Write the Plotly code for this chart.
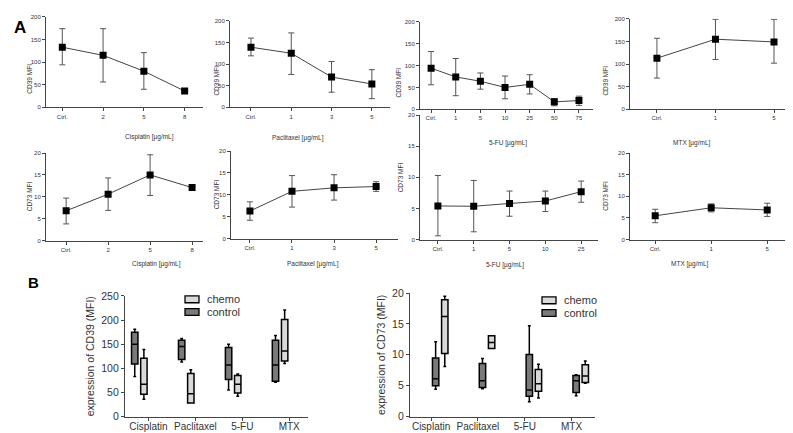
import plotly.graph_objects as go

W, H = 793, 433

# ---------------- data: panel A (mean, upper, lower of error bars) ----------------
cis_doses = ["Ctrl.", "2", "5", "8"]
pac_doses = ["Ctrl.", "1", "3", "5"]
fu39_doses = ["Ctrl.", "1", "5", "10", "25", "50", "75"]
fu73_doses = ["Ctrl.", "1", "5", "10", "25"]
mtx_doses = ["Ctrl.", "1", "5"]

cd39_cis = [133, 115, 80, 36]
cd39_cis_hi = [174, 174, 121, 38]
cd39_cis_lo = [94, 56, 40, 34]

cd39_pac = [139, 125, 70, 54]
cd39_pac_hi = [160, 172, 106, 87]
cd39_pac_lo = [119, 76, 35, 20]

cd39_fu = [94, 74, 64, 50, 57, 17, 20]
cd39_fu_hi = [132, 116, 83, 76, 79, 24, 30]
cd39_fu_lo = [56, 31, 46, 24, 35, 8, 9]

cd39_mtx = [113, 155, 149]
cd39_mtx_hi = [157, 199, 199]
cd39_mtx_lo = [69, 110, 102]

cd73_cis = [6.8, 10.6, 15.0, 12.1]
cd73_cis_hi = [9.7, 14.3, 19.6, 12.7]
cd73_cis_lo = [3.8, 6.9, 10.3, 11.5]

cd73_pac = [6.3, 10.8, 11.6, 11.9]
cd73_pac_hi = [8.4, 14.4, 14.6, 13.0]
cd73_pac_lo = [4.2, 7.2, 8.8, 10.8]

cd73_fu = [5.4, 5.35, 5.8, 6.2, 7.7]
cd73_fu_hi = [10.3, 9.5, 7.8, 7.8, 9.4]
cd73_fu_lo = [0.6, 1.25, 3.75, 4.5, 6.0]

cd73_mtx = [5.5, 7.35, 6.85]
cd73_mtx_hi = [7.0, 8.25, 8.4]
cd73_mtx_lo = [3.9, 6.4, 5.35]

x_titles = ["Cisplatin [µg/mL]", "Paclitaxel [µg/mL]", "5-FU [µg/mL]", "MTX [µg/mL]"]
cd39_ticks = [0, 50, 100, 150, 200]
cd73_ticks = [0, 5, 10, 15, 20]

# ---------------- data: panel B (box summaries) ----------------
drugs = ["Cisplatin", "Paclitaxel", "5-FU", "MTX"]
groups = ["chemo", "control"]

cd39_ctrl_min = [83, 113, 55, 71]
cd39_ctrl_q1 = [109, 118, 77, 73]
cd39_ctrl_med = [150, 145, 107, 107]
cd39_ctrl_q3 = [175, 158, 143, 158]
cd39_ctrl_max = [181, 162, 150, 168]

cd39_chemo_min = [36, 28, 42, 110]
cd39_chemo_q1 = [46, 28, 49, 115]
cd39_chemo_med = [67, 47, 67, 136]
cd39_chemo_q3 = [121, 89, 85, 201]
cd39_chemo_max = [139, 97, 88, 221]

cd73_ctrl_min = [4.4, 4.5, 2.4, 3.35]
cd73_ctrl_q1 = [5.0, 4.7, 3.3, 3.9]
cd73_ctrl_med = [6.1, 5.8, 4.3, 5.8]
cd73_ctrl_q3 = [9.5, 8.6, 10.05, 6.65]
cd73_ctrl_max = [12.1, 9.4, 14.7, 6.75]

cd73_chemo_min = [8.1, 11.0, 3.0, 5.4]
cd73_chemo_q1 = [10.2, 11.0, 4.1, 5.5]
cd73_chemo_med = [16.2, 12.0, 5.3, 6.55]
cd73_chemo_q3 = [18.9, 13.1, 7.6, 8.4]
cd73_chemo_max = [19.5, 13.1, 8.45, 9.0]


def dx(a, b):
    return [a / W, b / W]


def dy(top, bottom):
    return [1 - bottom / H, 1 - top / H]


fig = go.Figure()

panels = [
    (cis_doses, cd39_cis, cd39_cis_hi, cd39_cis_lo, (38, 195), (3, 96), (-0.4, 3.45), (0, 200), cd39_ticks, "CD39 MFI", 16, x_titles[0], (115, 120)),
    (pac_doses, cd39_pac, cd39_pac_hi, cd39_pac_lo, (222, 382), (7, 96), (-0.52, 3.45), (0, 200), cd39_ticks, "CD39 MFI", 203, x_titles[1], (290, 121)),
    (fu39_doses, cd39_fu, cd39_fu_hi, cd39_fu_lo, (412, 585), (8, 98), (-0.45, 6.57), (0, 200), cd39_ticks, "CD39 MFI", 391, x_titles[2], (500, 126)),
    (mtx_doses, cd39_mtx, cd39_mtx_hi, cd39_mtx_lo, (622, 790), (5, 98), (-0.46, 2.41), (0, 200), cd39_ticks, "CD39 MFI", 603, x_titles[3], (705, 126)),
    (cis_doses, cd73_cis, cd73_cis_hi, cd73_cis_lo, (38, 195), (143, 233), (-0.48, 3.26), (0, 20), cd73_ticks, "CD73 MFI", 16, x_titles[0], (122, 257)),
    (pac_doses, cd73_pac, cd73_pac_hi, cd73_pac_lo, (223, 390), (141, 231), (-0.45, 3.52), (0, 20), cd73_ticks, "CD73 MFI", 203, x_titles[1], (305, 257)),
    (fu73_doses, cd73_fu, cd73_fu_hi, cd73_fu_lo, (412, 590), (104, 232), (-0.5, 4.47), (0, 20), cd73_ticks, "CD73 MFI", 392, x_titles[2], (497, 258)),
    (mtx_doses, cd73_mtx, cd73_mtx_hi, cd73_mtx_lo, (622, 790), (143, 232), (-0.45, 2.55), (0, 20), cd73_ticks, "CD73 MFI", 603, x_titles[3], (703, 257)),
]

annotations = []
shapes = []
small_font = dict(family="Liberation Sans", size=6, color="#333")
axis_common = dict(showgrid=False, zeroline=False, showline=True, linecolor="#444",
                   linewidth=1, ticks="outside", ticklen=3, tickcolor="#444", tickwidth=1)

for i, (doses, m, hi, lo, xd, yd, xr, yr, yt, ytitle, ytx, xtitle, xtxy) in enumerate(panels, start=1):
    err_p = [h - v for h, v in zip(hi, m)]
    err_m = [v - l for v, l in zip(m, lo)]
    fig.add_trace(go.Scatter(
        x=doses, y=m, mode="lines+markers",
        line=dict(color="#444", width=1),
        marker=dict(symbol="square", size=7, color="black"),
        error_y=dict(type="data", array=err_p, arrayminus=err_m, color="#555", thickness=1, width=3),
        xaxis=f"x{i}", yaxis=f"y{i}", showlegend=False, hoverinfo="skip"))
    fig.layout[f"xaxis{i}"] = dict(domain=dx(*xd), anchor=f"y{i}", type="category",
                                   categoryorder="array", categoryarray=doses, range=list(xr),
                                   tickfont=small_font, **axis_common)
    fig.layout[f"yaxis{i}"] = dict(domain=dy(*yd), anchor=f"x{i}", range=list(yr),
                                   tickvals=yt, tickfont=small_font, **axis_common)
    annotations.append(dict(x=ytx / W, y=1 - (yd[0] + yd[1]) / 2 / H, xref="paper", yref="paper",
                            text=ytitle, textangle=-90, showarrow=False,
                            font=dict(family="Liberation Sans", size=6.5, color="#333")))
    annotations.append(dict(x=xtxy[0] / W, y=1 - xtxy[1] / H, xref="paper", yref="paper",
                            text=xtitle, showarrow=False,
                            font=dict(family="Liberation Sans", size=6.5, color="#333")))

# ---------------- panel B boxes ----------------
ctrl_color = "#7a7a7a"
chemo_color = "#d9d9d9"
box_specs = [
    (9, cd39_ctrl_min, cd39_ctrl_q1, cd39_ctrl_med, cd39_ctrl_q3, cd39_ctrl_max,
     cd39_chemo_min, cd39_chemo_q1, cd39_chemo_med, cd39_chemo_q3, cd39_chemo_max, (177, 290)),
    (10, cd73_ctrl_min, cd73_ctrl_q1, cd73_ctrl_med, cd73_ctrl_q3, cd73_ctrl_max,
     cd73_chemo_min, cd73_chemo_q1, cd73_chemo_med, cd73_chemo_q3, cd73_chemo_max, (534, 291)),
]
b_font = dict(family="Liberation Sans", size=10.5, color="#333")
for (i, cmin, cq1, cmed, cq3, cmax, hmin, hq1, hmed, hq3, hmax, legpos) in box_specs:
    fig.add_trace(go.Box(x=drugs, q1=cq1, median=cmed, q3=cq3, lowerfence=cmin, upperfence=cmax,
                         name="control", fillcolor=ctrl_color, line=dict(color="black", width=1.5),
                         whiskerwidth=0.45, xaxis=f"x{i}", yaxis=f"y{i}", showlegend=False,
                         hoverinfo="skip"))
    fig.add_trace(go.Box(x=drugs, q1=hq1, median=hmed, q3=hq3, lowerfence=hmin, upperfence=hmax,
                         name="chemo", fillcolor=chemo_color, line=dict(color="black", width=1.5),
                         whiskerwidth=0.45, xaxis=f"x{i}", yaxis=f"y{i}", showlegend=False,
                         hoverinfo="skip"))
    # manual legend (chemo above control)
    lx, ly = legpos
    for k, (g, col) in enumerate(zip(groups, [chemo_color, ctrl_color])):
        top = ly + k * 13
        shapes.append(dict(type="rect", xref="paper", yref="paper",
                           x0=lx / W, x1=(lx + 14) / W, y0=1 - (top + 7) / H, y1=1 - top / H,
                           fillcolor=col, line=dict(color="black", width=1.3)))
        annotations.append(dict(x=(lx + 20) / W, y=1 - (top + 3.5) / H, xref="paper", yref="paper",
                                text=g, showarrow=False, xanchor="left", yanchor="middle",
                                font=dict(family="Liberation Sans", size=11, color="#333")))

axis_b = dict(showgrid=False, zeroline=False, showline=True, linecolor="#444",
              linewidth=1.3, ticks="outside", ticklen=3, tickcolor="#444", tickwidth=1.3)
xb_font = dict(family="Liberation Sans", size=10, color="#333")
fig.layout["xaxis9"] = dict(domain=dx(117, 300), anchor="y9", type="category", range=[-0.5, 3.4],
                            tickfont=xb_font, ticklabelstandoff=-3, **axis_b)
fig.layout["yaxis9"] = dict(domain=dy(290, 414), anchor="x9", range=[0, 250],
                            tickvals=[0, 50, 100, 150, 200, 250], tickfont=b_font,
                            title=dict(text="expression of CD39 (MFI)", font=b_font, standoff=4), **axis_b)
fig.layout["xaxis10"] = dict(domain=dx(402, 587), anchor="y10", type="category", range=[-0.45, 3.5],
                             tickfont=xb_font, ticklabelstandoff=-3, **axis_b)
fig.layout["yaxis10"] = dict(domain=dy(287, 414), anchor="x10", range=[0, 20],
                             tickvals=[0, 5, 10, 15, 20], tickfont=b_font,
                             title=dict(text="expression of CD73 (MFI)", font=b_font, standoff=4), **axis_b)

fig.update_layout(boxmode="group", boxgap=0.22, boxgroupgap=0.3)

annotations.append(dict(x=4 / W, y=1 - 2 / H, xref="paper", yref="paper", text="<b>A</b>",
                        showarrow=False, xanchor="left", yanchor="top",
                        font=dict(family="Liberation Sans", size=17, color="black")))
annotations.append(dict(x=18 / W, y=1 - 265 / H, xref="paper", yref="paper", text="<b>B</b>",
                        showarrow=False, xanchor="left", yanchor="top",
                        font=dict(family="Liberation Sans", size=15, color="black")))

fig.update_layout(width=W, height=H, margin=dict(l=0, r=0, t=0, b=0),
                  paper_bgcolor="white", plot_bgcolor="white", showlegend=False,
                  annotations=annotations, shapes=shapes, font=dict(family="Liberation Sans"))

fig.write_html("out.html")
